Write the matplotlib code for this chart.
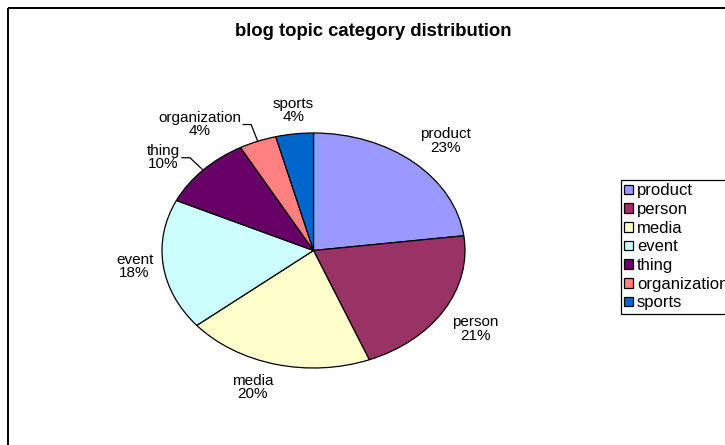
import numpy as np
import matplotlib
matplotlib.use('Agg')
import matplotlib.pyplot as plt
from matplotlib.patches import Rectangle

plt.rcParams['font.family'] = ['Liberation Sans', 'DejaVu Sans']

categories = ['product', 'person', 'media', 'event', 'thing', 'organization', 'sports']
shares = [23, 21, 20, 18, 10, 4, 4]
colors = ['#9999FF', '#993366', '#FFFFCC', '#CCFFFF', '#660066', '#FF8080', '#0066CC']
leader = [False, False, False, False, True, True, False]

W, H = 725, 445
# pie box in pixels (Excel stretches it to an ellipse)
cx, cy, rx, ry = 313.5, 250.5, 151.5, 117.5

fig = plt.figure(figsize=(W / 100, H / 100), dpi=100)
ax = fig.add_axes([(cx - rx) / W, (H - cy - ry) / H, 2 * rx / W, 2 * ry / H])
wedges, _ = ax.pie(shares, colors=colors, startangle=90, counterclock=False,
                   wedgeprops=dict(edgecolor='black', linewidth=0.9))
ax.set_aspect('auto')
ax.set_xlim(-1, 1)
ax.set_ylim(-1, 1)

# overlay in pixel coords for border, title, labels
ov = fig.add_axes([0, 0, 1, 1], facecolor='none')
ov.set_xlim(0, W)
ov.set_ylim(H, 0)
ov.axis('off')
ov.add_patch(Rectangle((8, 8), W + 50, H + 50, fill=False, edgecolor='black', linewidth=1.4))
ov.text(373, 32, 'blog topic category distribution', ha='center', va='center',
        fontsize=13.3, fontweight='bold')

total = sum(shares)
cum = 0
for i, v in enumerate(shares):
    ang = np.deg2rad(90 - 360 * (cum + v / 2) / total)
    cum += v
    c, s = np.cos(ang), np.sin(ang)
    ex, ey = cx + rx * c, cy - ry * s
    txt = f'{categories[i]}\n{v}%'
    if leader[i]:
        # kink of the leader line, label sits left/right of it
        kx, ky = ex + 18 * c, ey - 18 * s
        sgn = -1 if c < 0 else 1
        ov.text(kx + 10 * sgn, ky, txt, ha='right' if c < 0 else 'left', va='center',
                fontsize=11, multialignment='center', linespacing=0.95)
        ov.plot([kx + 8 * sgn, kx, ex], [ky, ky, ey], color='black', lw=0.9)
    else:
        tx, ty = ex + 10 * c, ey - 10 * s
        ha = 'left' if c > 0.2 else ('right' if c < -0.2 else 'center')
        va = 'bottom' if s > 0.3 else ('top' if s < -0.3 else 'center')
        ov.text(tx, ty, txt, ha=ha, va=va, fontsize=11, multialignment='center',
                linespacing=0.95)

leg = fig.legend(wedges, categories, loc='upper left',
                 bbox_to_anchor=(621 / W, 1 - 180 / H), borderaxespad=0,
                 fontsize=12, handlelength=0.5, handleheight=0.5, handletextpad=0.25,
                 labelspacing=0.22, borderpad=0.2, fancybox=False, framealpha=1)
leg.get_frame().set_edgecolor('black')
leg.get_frame().set_linewidth(0.9)

fig.savefig('out.png', dpi=100)
